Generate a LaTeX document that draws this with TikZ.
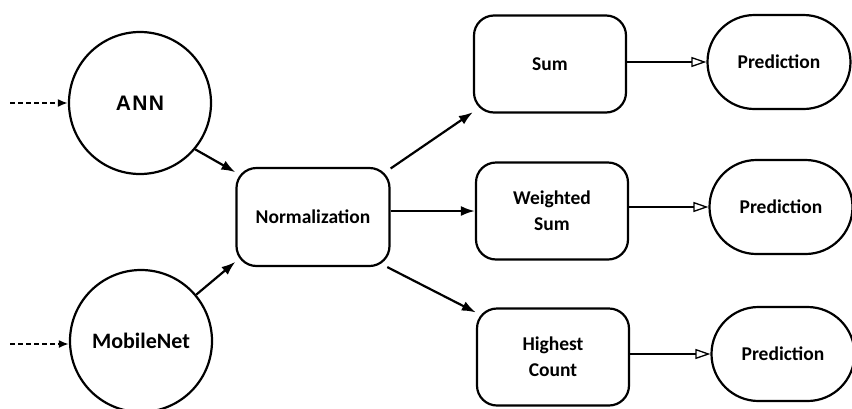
\documentclass[tikz,border=0pt]{standalone}
\usepackage{fontspec}
\setmainfont{Carlito}
\newfontfamily\annfont[LetterSpace=6]{Liberation Sans}
\usetikzlibrary{shapes.misc,arrows.meta}
\begin{document}
\begin{tikzpicture}[x=1pt,y=-1pt,
  line width=2.2pt,
  model/.style={circle,draw,minimum size=142pt,inner sep=0pt},
  box/.style={draw,rounded corners=20pt,minimum width=152pt,minimum height=97pt,
              align=center,font=\fontsize{19.5}{26}\selectfont\bfseries},
  outcome/.style={rounded rectangle,draw,minimum width=143pt,minimum height=94pt,
              inner sep=0pt,font=\fontsize{19.5}{26}\selectfont\bfseries},
  flow/.style={-{Latex[length=14pt,width=10pt]}},
  result/.style={-{Triangle[open,length=15pt,width=10pt,line width=1.3pt,fill=white]}},
  feed/.style={-{Latex[length=10pt,width=8pt]},dash pattern=on 4.5pt off 3.5pt}]
\useasboundingbox (0,0) rectangle (852,408);

% input models
\node[model,font=\annfont\fontsize{21}{25}\selectfont\bfseries] (ann) at (140,103) {ANN};
\node[model,font=\fontsize{22}{27}\selectfont\bfseries] (mob) at (141,341) {MobileNet};

% combination stage
\node[box,minimum width=153pt,minimum height=98pt] (norm) at (313,217) {Normalization};
\node[box] (sum) at (550,64) {Sum};
\node[box] (wsum) at (552,211) {Weighted\\Sum};
\node[box] (hc) at (553,357) {Highest\\Count};

% outputs
\node[outcome] (p1) at (779,62) {Prediction};
\node[outcome] (p2) at (781,207) {Prediction};
\node[outcome] (p3) at (783,354) {Prediction};

% external inputs
\coordinate (inA) at (10,103);
\coordinate (inB) at (10,344);
\draw[feed] (inA) -- (ann.west);
\draw[feed] (inB) -- (mob.west |- inB);

% connectors
\draw[flow] (ann.-40) -- (norm.150);
\draw[flow] (mob.40) -- (norm.-150);
\draw[flow] (norm.32) -- (sum.-148);
\draw[flow] (norm.east |- wsum.west) -- (wsum.west);
\draw[flow] (norm.-34) -- (hc.150);
\draw[result] (p1.west -| sum.east) -- (p1.west);
\draw[result] (p2.west -| wsum.east) -- (p2.west);
\draw[result] (p3.west -| hc.east) -- (p3.west);
\end{tikzpicture}
\end{document}
